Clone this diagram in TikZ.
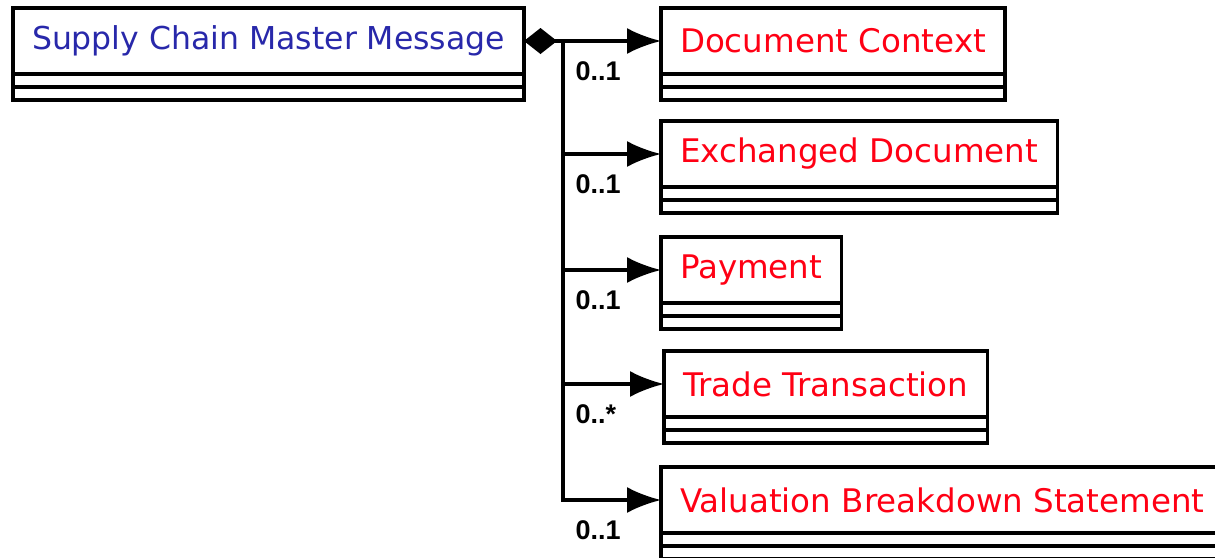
\documentclass[tikz,border=0pt]{standalone}
\usepackage{fontspec}
\setmainfont{DejaVu Sans}
\newfontfamily\multfont{Liberation Sans}
\usetikzlibrary{arrows.meta}

\begin{document}
\begin{tikzpicture}[x=1pt, y=1pt,
    %Option for nice arrows
    >={Latex[length=34pt,width=26pt]},
    line width=3.2pt,%
    classname/.style={draw=black, text=#1, anchor=north west, inner xsep=19pt, inner ysep=0pt,
        minimum height=66pt, outer sep=0pt, font=\fontsize{32.5}{38}\selectfont},
    assoc/.style={->},
    mult/.style={anchor=base west, inner sep=0pt, xshift=11pt, yshift=-39pt,
        font=\multfont\bfseries\fontsize{27}{30}\selectfont},
]
    % Colors
    \definecolor{nameblue}{RGB}{40,40,170}
    \definecolor{namered}{RGB}{255,0,20}

    \useasboundingbox (0,0) rectangle (1215,-557);

    % Classes
    \node[classname=nameblue, font=\fontsize{31.5}{38}\selectfont] (main) at (13,-8) {Supply Chain Master Message};
    \node[classname=namered] (ctx) at (661,-8) {Document Context};
    \node[classname=namered] (exdoc) at (661,-121) {Exchanged Document};
    \node[classname=namered] (pay) at (661,-237) {Payment};
    \node[classname=namered] (trade) at (664,-351) {Trade Transaction};
    \node[classname=namered] (valstmt) at (661,-467) {Valuation Breakdown Statement};

    % Empty compartments
    \draw (main.south west) rectangle ([yshift=-26pt]main.south east);
    \draw ([yshift=-13pt]main.south west) -- ([yshift=-13pt]main.south east);
    \draw (ctx.south west) rectangle ([yshift=-26pt]ctx.south east);
    \draw ([yshift=-13pt]ctx.south west) -- ([yshift=-13pt]ctx.south east);
    \draw (exdoc.south west) rectangle ([yshift=-26pt]exdoc.south east);
    \draw ([yshift=-13pt]exdoc.south west) -- ([yshift=-13pt]exdoc.south east);
    \draw (pay.south west) rectangle ([yshift=-26pt]pay.south east);
    \draw ([yshift=-13pt]pay.south west) -- ([yshift=-13pt]pay.south east);
    \draw (trade.south west) rectangle ([yshift=-26pt]trade.south east);
    \draw ([yshift=-13pt]trade.south west) -- ([yshift=-13pt]trade.south east);
    \draw (valstmt.south west) rectangle ([yshift=-26pt]valstmt.south east);
    \draw ([yshift=-13pt]valstmt.south west) -- ([yshift=-13pt]valstmt.south east);

    % Associations
    \coordinate (spine) at (563,0);
    \draw[{Diamond[length=33pt,width=26pt]}->] (main.east) -- (ctx.west);
    \draw[assoc] (exdoc.west -| spine) -- (exdoc.west);
    \draw[assoc] (pay.west -| spine) -- (pay.west);
    \draw[assoc] (trade.west -| spine) -- (trade.west);
    \draw[assoc] (main.east -| spine) -- (valstmt.west -| spine) -- (valstmt.west);

    % Multiplicities
    \node[mult] (mctx) at (ctx.west -| spine) {0..1};
    \node[mult] (mexdoc) at (exdoc.west -| spine) {0..1};
    \node[mult] (mpay) at (pay.west -| spine) {0..1};
    \node[mult] (mtrade) at (trade.west -| spine) {0..*};
    \node[mult] (mvalstmt) at (valstmt.west -| spine) {0..1};
\end{tikzpicture}
\end{document}
